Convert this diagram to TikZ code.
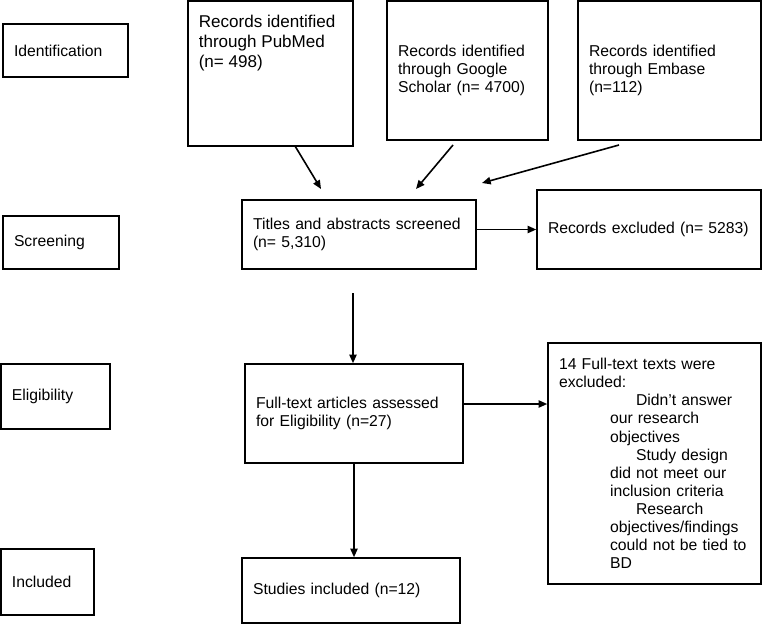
\documentclass[tikz,border=0pt]{standalone}
\usepackage{fontspec}
\setmainfont{Liberation Sans}
\usetikzlibrary{arrows.meta}
\tikzset{
  box/.style={draw, line width=1.2pt, align=left, inner xsep=8.25pt, inner ysep=0pt,
    font=\fontsize{11.8pt}{13.6pt}\selectfont},
  boxsize/.code 2 args={%
    \pgfmathsetlengthmacro\boxw{#1*0.75pt}%
    \pgfmathsetlengthmacro\boxh{#2*0.75pt}%
    \pgfmathsetlengthmacro\boxt{(#1-22)*0.75pt}%
    \edef\boxset{\noexpand\tikzset{minimum width=\boxw, minimum height=\boxh, text width=\boxt}}\boxset},
  arr/.style={line width=1.2pt, -{Triangle[length=6.5pt,width=5.5pt]}}
}

\begin{document}
\begin{tikzpicture}[x=0.75pt, y=-0.75pt]
			%%%%% START %%%%%
			\useasboundingbox (0, 0) rectangle (762, 624);
			
			% stage labels
			\node[box, boxsize={125}{53}] (ident) at (65.5, 50.5) {Identification};
			\node[box, boxsize={116}{53}] (screen) at (61, 242.5) {Screening};
			\node[box, boxsize={109}{65}] (elig) at (55.5, 396.5) {Eligibility};
			\node[box, boxsize={93}{66}] (incl) at (47.5, 582) {Included};
			
			% sources
			\node[box, boxsize={165}{145}] (pubmed) at (270.5, 73.5) {};
			\node[align=left, anchor=north west, inner sep=0pt, font=\fontsize{12.8pt}{15pt}\selectfont] (pubmedtext) at (198.5, 15) {Records identified\\through PubMed\\(n= 498)};
			\node[box, boxsize={161}{139}] (google) at (467.5, 70.5) {Records identified\\through Google\\Scholar (n= 4700)};
			\node[box, boxsize={183}{139}] (embase) at (669.5, 70.5) {Records identified\\through Embase\\(n=112)};
			
			% flow
			\node[box, boxsize={234}{69}] (titles) at (359, 234.5) {\mbox{Titles and abstracts screened}\\(n= 5,310)};
			\node[box, boxsize={224}{79}] (excl) at (649, 229.5) {\mbox{Records excluded (n= 5283)}};
			\node[box, boxsize={218}{99}] (fulltext) at (354, 413.5) {Full-text articles assessed\\for Eligibility (n=27)};
			\node[box, boxsize={218}{65}] (studies) at (351, 590.5) {Studies included (n=12)};
			\node[box, boxsize={213}{241}] (ftexcl) at (654.5, 463.5) {14 Full-text texts were\\excluded:\\
				\hspace*{57.75pt}Didn’t answer\\\hspace*{38.25pt}our research\\\hspace*{38.25pt}objectives\\
				\hspace*{57.75pt}Study design\\\hspace*{38.25pt}did not meet our\\\hspace*{38.25pt}inclusion criteria\\
				\hspace*{57.75pt}Research\\\hspace*{38.25pt}objectives/findings\\\hspace*{38.25pt}could not be tied to\\\hspace*{38.25pt}BD};
			
			% free arrow ends
			\coordinate (pm-out) at (295, 146);
			\coordinate (pm-in) at (321, 189);
			\coordinate (gs-out) at (453, 145);
			\coordinate (gs-in) at (416, 189);
			\coordinate (em-out) at (619, 145);
			\coordinate (em-in) at (482, 183);
			\coordinate (ts-out) at (353, 293);
			\coordinate (ft-out) at (463, 404);
			
			\draw[arr] (pm-out) -- (pm-in);
			\draw[arr] (gs-out) -- (gs-in);
			\draw[arr] (em-out) -- (em-in);
			\draw[arr] (titles.east |- excl.west) -- (excl.west);
			\draw[arr] (ts-out) -- (ts-out |- fulltext.north);
			\draw[arr] (ft-out) -- (ft-out -| ftexcl.west);
			\draw[arr] (fulltext.south) -- (fulltext.south |- studies.north);
			
			%%%%% END %%%%%
\end{tikzpicture}
\end{document}
